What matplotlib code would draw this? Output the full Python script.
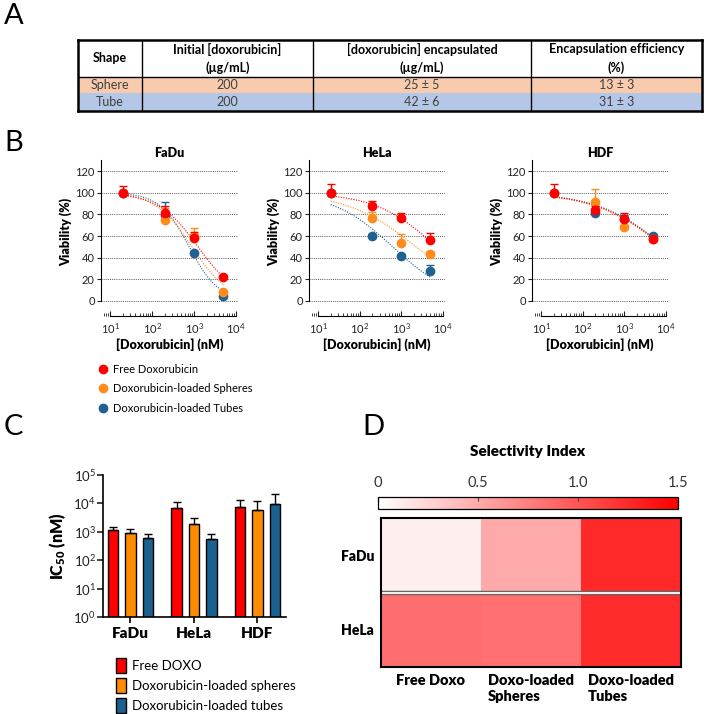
import numpy as np
import matplotlib
matplotlib.use("Agg")
import matplotlib.pyplot as plt
from matplotlib.colors import LinearSegmentedColormap
from matplotlib.lines import Line2D
from matplotlib.patches import Patch

plt.rcParams['font.family'] = ['Lato', 'DejaVu Sans']
plt.rcParams['mathtext.fontset'] = 'custom'
plt.rcParams['mathtext.rm'] = 'Lato'
plt.rcParams['mathtext.bf'] = 'Lato:heavy'
plt.rcParams['mathtext.it'] = 'Lato:italic'

# panel A - loading table
table_cols = ['Shape', 'Initial [doxorubicin]\n(µg/mL)',
              '[doxorubicin] encapsulated\n(µg/mL)', 'Encapsulation efficiency\n(%)']
table_rows = [['Sphere', '200', '25 ± 5', '13 ± 3'],
              ['Tube', '200', '42 ± 6', '31 ± 3']]
row_colors = ['#f8cbad', '#b4c7e7']

# panel B - viability curves
conc_nm = [20, 200, 1000, 5000]
series_names = ['Free Doxorubicin', 'Doxorubicin-loaded Spheres', 'Doxorubicin-loaded Tubes']
series_colors = ['#ff0000', '#ff8c1a', '#1f6190']
cell_lines = ['FaDu', 'HeLa', 'HDF']
fadu_mean = [[100, 81, 58, 22], [100, 75, 60, 8], [100, 79, 44, 5]]
fadu_sd = [[6, 7, 6, 2], [0, 11, 7, 2], [0, 12, 2, 1]]
hela_mean = [[100, 88, 77, 56], [100, 77, 54, 43], [100, 60, 42, 28]]
hela_sd = [[8, 4, 4, 7], [0, 5, 8, 3], [0, 2, 1, 5]]
hdf_mean = [[100, 84, 76, 57], [100, 91, 68, 57], [100, 81, 76, 60]]
hdf_sd = [[8, 4, 5, 2], [0, 12, 2, 2], [0, 2, 3, 2]]
# dose-response fits (top 100, bottom 0): IC50 in nM, hill slope
fadu_fit = [[1250, 0.91], [890, 1.0], [770, 1.24]]
hela_fit = [[7000, 0.59], [2270, 0.52], [620, 0.61]]
hdf_fit = [[9300, 0.52], [8800, 0.52], [9600, 0.53]]

# panel C - IC50
ic50_groups = ['FaDu', 'HeLa', 'HDF']
ic50_names = ['Free DOXO', 'Doxorubicin-loaded spheres', 'Doxorubicin-loaded tubes']
ic50_colors = ['#ff0000', '#ff8c00', '#1b6190']
ic50_free = [1150, 6700, 7600]
ic50_free_sd = [300, 4800, 5600]
ic50_sph = [890, 1900, 5900]
ic50_sph_sd = [360, 1050, 6600]
ic50_tub = [620, 550, 9500]
ic50_tub_sd = [200, 270, 12000]

# panel D - selectivity index
si_rows = ['FaDu', 'HeLa']
si_cols = ['Free Doxo', 'Doxo-loaded\nSpheres', 'Doxo-loaded\nTubes']
si_fadu = [0.1, 0.5, 1.25]
si_hela = [0.85, 0.84, 1.24]

W, H = 705, 714
fig = plt.figure(figsize=(W / 100, H / 100), dpi=100)
HEAVY = 'heavy'


def px_axes(l, t, r, b):
    return fig.add_axes([l / W, 1 - b / H, (r - l) / W, (b - t) / H])


def px_text(x, y, s, **kw):
    fig.text(x / W, 1 - y / H, s, **kw)


# panel letters
for lab, x, y in [('A', 4, 16), ('B', 4, 143), ('C', 4, 427), ('D', 362, 427)]:
    px_text(x, y, lab, fontsize=21, fontweight='normal', va='center', ha='left')

# ---------------- A: table
col_w = [64, 171, 218, 171]
axT = px_axes(78, 40, 702, 111)
axT.set_xticks([])
axT.set_yticks([])
axT.set_zorder(1)
for s in axT.spines.values():
    s.set_linewidth(1.8)
tab = axT.table(cellText=table_rows, colLabels=table_cols, cellLoc='center',
                colWidths=col_w, bbox=[0, 0, 1, 1])
tab.auto_set_font_size(False)
for (r, c), cell in tab.get_celld().items():
    cell.set_linewidth(0)
    if r == 0:
        cell.set_height(37)
        cell.set_edgecolor('white')
        cell.set_text_props(fontweight='bold', fontsize=9, linespacing=1.55)
    else:
        cell.set_height(16.5 if r == 1 else 18)
        cell.set_facecolor(row_colors[r - 1])
        cell.set_edgecolor(row_colors[r - 1])
        cell.set_text_props(fontsize=9, color='#404040')
# grid lines of the table
for xb in np.cumsum(col_w)[:-1] / sum(col_w):
    axT.axvline(xb, color='black', lw=1)
axT.axhline(34.5 / 71.5, color='black', lw=1)

# ---------------- B: viability curves
b_boxes = [(101, 160, 238, 303), (309, 160, 445, 303), (532, 160, 668, 303)]
b_means = [fadu_mean, hela_mean, hdf_mean]
b_sds = [fadu_sd, hela_sd, hdf_sd]
b_fits = [fadu_fit, hela_fit, hdf_fit]
b_axes = []
for box, name, means, sds, fits in zip(b_boxes, cell_lines, b_means, b_sds, b_fits):
    ax = px_axes(*box)
    b_axes.append(ax)
    xs = np.logspace(np.log10(conc_nm[0]), np.log10(conc_nm[-1]), 150)
    for k in [2, 1, 0]:
        ic, hill = fits[k]
        ax.plot(xs, 100 / (1 + (xs / ic) ** hill), ls=(0, (1, 1.3)), lw=0.8,
                color=series_colors[k], zorder=2)
    for k in [2, 1, 0]:
        ax.errorbar(conc_nm, means[k], yerr=[np.zeros(4), sds[k]], fmt='o', ms=6,
                    color=series_colors[k], ecolor=series_colors[k], elinewidth=1,
                    capsize=3, capthick=1, zorder=5 - k)
    ax.set_xscale('log')
    ax.set_xlim(10 ** 0.78, 10 ** 4.05)
    ax.set_ylim(-1.85, 130.2)
    ax.set_yticks(range(0, 121, 20))
    ax.yaxis.grid(True, ls=(0, (1, 1.2)), color='#555555', lw=0.7)
    ax.set_axisbelow(True)
    for s in ['top', 'right']:
        ax.spines[s].set_visible(False)
    ax.spines['bottom'].set_position(('outward', 9))
    ax.spines['bottom'].set_bounds(10, 1e4)
    ax.spines['left'].set_bounds(0, 130)
    ax.set_xticks([10, 100, 1000, 10000])
    ax.tick_params(axis='x', which='both', direction='in', labelsize=8, colors='#222222')
    ax.tick_params(axis='x', which='major', length=3.5, pad=4)
    ax.tick_params(axis='x', which='minor', length=2)
    ax.tick_params(axis='y', length=3, labelsize=8, colors='#222222', pad=1.5)
    ax.set_title(name, fontsize=9, fontweight=HEAVY, pad=2)
    ax.set_ylabel('Viability (%)', fontsize=9, fontweight=HEAVY, labelpad=2)
    ax.set_xlabel('[Doxorubicin] (nM)', fontsize=9, fontweight=HEAVY, labelpad=2)

handles = [Line2D([], [], ls='none', marker='o', ms=6, color=c) for c in series_colors]
b_axes[0].legend(handles, series_names, loc='upper left', frameon=False, fontsize=8,
                 bbox_to_anchor=(100 / W, 1 - 364 / H), bbox_transform=fig.transFigure,
                 handlelength=0.6, handletextpad=0.6, labelspacing=0.75, borderpad=0,
                 borderaxespad=0)

# ---------------- C: IC50 bars
axC = px_axes(103, 475, 286, 617)
x = np.arange(len(ic50_groups))
offsets = [-0.275, 0, 0.275]
for off, vals, sds, col in zip(offsets, [ic50_free, ic50_sph, ic50_tub],
                               [ic50_free_sd, ic50_sph_sd, ic50_tub_sd], ic50_colors):
    axC.bar(x + off, vals, width=0.165, color=col, edgecolor='black', linewidth=1, zorder=2)
    axC.errorbar(x + off, vals, yerr=[np.zeros(3), sds], fmt='none', ecolor='black',
                 elinewidth=1, capsize=3, capthick=1, zorder=3)
axC.set_yscale('log')
axC.set_ylim(1, 1e5)
axC.set_xlim(-0.433, 2.449)
axC.set_yticks([1, 10, 100, 1000, 1e4, 1e5])
axC.yaxis.set_minor_locator(matplotlib.ticker.NullLocator())
axC.set_xticks(x)
axC.set_xticklabels(ic50_groups, fontsize=11, fontweight=HEAVY)
axC.tick_params(axis='y', labelsize=9.5, length=4, width=1.2, colors='#222222', pad=1)
axC.tick_params(axis='x', length=4, width=1.2, pad=3)
for s in ['top', 'right']:
    axC.spines[s].set_visible(False)
for s in ['left', 'bottom']:
    axC.spines[s].set_linewidth(1.2)
axC.set_ylabel(r'IC$_{\mathbf{50}}$ (nM)', fontsize=11.5, fontweight=HEAVY, labelpad=4)
c_handles = [Patch(facecolor=c, edgecolor='black', linewidth=1) for c in ic50_colors]
axC.legend(c_handles, ic50_names, loc='upper left', frameon=False, fontsize=9.5,
           bbox_to_anchor=(116 / W, 1 - 658 / H), bbox_transform=fig.transFigure,
           handlelength=0.75, handleheight=1.35, handletextpad=0.5, labelspacing=0.4,
           borderpad=0, borderaxespad=0)

# ---------------- D: selectivity heatmap
si_cmap = LinearSegmentedColormap.from_list('si', ['#ffffff', '#ff0000'])
axD = px_axes(381, 518, 681, 667)
im = axD.imshow(np.array([si_fadu, si_hela]), cmap=si_cmap, vmin=0, vmax=1.5,
                aspect='auto', interpolation='nearest')
axD.axhline(0.5, color='#666666', lw=3.2)
axD.axhline(0.5, color='white', lw=1.3)
axD.set_yticks(range(len(si_rows)))
axD.set_yticklabels(si_rows, fontsize=10, fontweight=HEAVY)
axD.set_xticks(range(len(si_cols)))
axD.set_xticklabels(si_cols, fontsize=10.5, fontweight=HEAVY, multialignment='left',
                    va='top', linespacing=1.3)
axD.tick_params(length=0, pad=5)
for s in axD.spines.values():
    s.set_linewidth(1.5)

cax = px_axes(378, 497, 678, 509)
cb = fig.colorbar(im, cax=cax, orientation='horizontal')
cb.set_ticks([0, 0.5, 1.0, 1.5])
cb.set_ticklabels(['0', '0.5', '1.0', '1.5'])
cax.xaxis.set_ticks_position('top')
cax.tick_params(direction='in', length=3, color='#444444', labelsize=10.5,
                labelcolor='#333333', pad=5)
cb.outline.set_linewidth(0.9)
px_text(528, 452, 'Selectivity Index', fontsize=11, fontweight=HEAVY, ha='center', va='center')

fig.savefig('out.png', dpi=100)
